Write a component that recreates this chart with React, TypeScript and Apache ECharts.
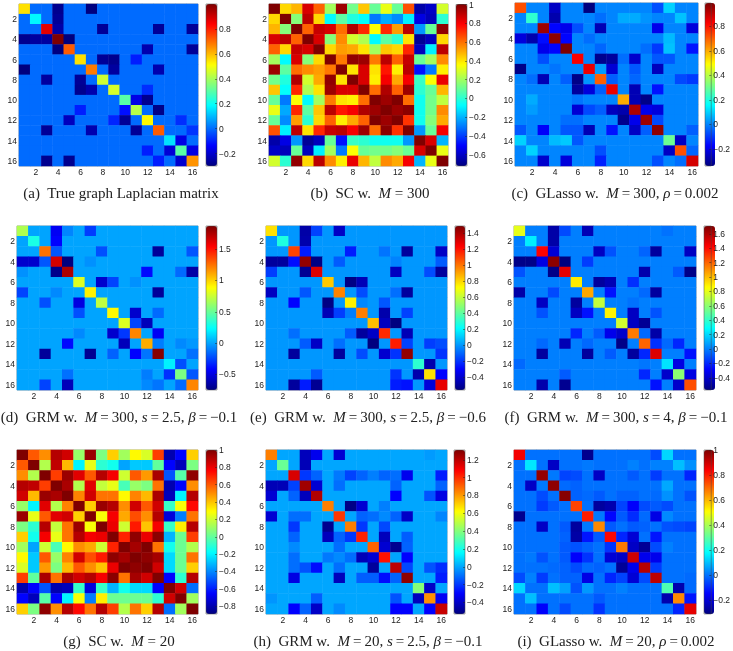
import React, { useEffect, useRef } from "react";
import * as echarts from "echarts";

const categories = ["1","2","3","4","5","6","7","8","9","10","11","12","13","14","15","16"];

const trueLaplacian = [
[.55,0,0,-.28,0,0,-.3,0,0,0,0,0,0,0,0,0],
[0,.18,0,-.27,0,0,0,0,0,0,0,0,0,0,0,0],
[0,0,.87,-.25,0,0,0,-.27,0,0,0,0,-.27,0,0,-.27],
[-.28,-.26,-.26,1,-.3,0,0,0,0,0,0,0,0,0,0,0],
[0,0,0,-.3,.72,0,0,0,0,0,0,-.24,0,0,0,-.27],
[0,0,0,0,0,.55,0,-.27,-.28,0,-.1,0,0,0,0,0],
[-.3,0,0,0,0,0,.68,0,-.26,0,0,0,-.24,0,0,0],
[0,0,-.26,0,0,-.27,0,.45,0,0,0,0,0,0,0,0],
[0,0,0,0,0,-.28,-.24,0,.46,0,0,-.08,0,0,0,0],
[0,0,0,0,0,0,0,0,0,.3,-.17,-.28,0,0,0,0],
[0,0,0,0,0,-.1,0,0,0,-.12,.42,0,-.29,0,0,0],
[0,0,0,0,-.22,0,0,0,-.09,-.27,0,.52,0,0,-.08,0],
[0,0,-.27,0,0,0,-.24,0,0,0,-.27,0,.72,0,0,-.07],
[0,0,0,0,0,0,0,0,0,0,0,0,0,.15,-.17,0],
[0,0,0,0,0,0,0,0,0,0,0,-.1,0,-.19,.3,-.17],
[0,0,-.28,0,-.28,0,0,0,0,0,0,0,-.1,0,-.2,.65],
];

const sc300 = [
[1,.42,.48,.85,.62,.2,.95,.12,.45,.1,.32,.1,.65,-.65,-.6,.28],
[.42,1,.15,.9,.42,-.08,.08,-.02,-.07,-.3,-.22,-.27,-.1,-.55,-.62,0],
[.48,.15,1,.62,.88,.85,.6,.92,.72,.35,.72,.52,.9,-.25,.1,.97],
[.85,.9,.62,1,.85,.15,.55,.28,.22,-.08,.08,0,.4,-.68,-.62,.42],
[.62,.42,.88,.85,1,.42,.52,.5,.4,.2,.45,.42,.72,-.62,-.1,.9],
[.2,-.08,.85,.15,.42,1,.58,.97,.95,.58,.9,.62,.88,.1,.2,.55],
[.95,.08,.6,.55,.52,.58,1,.4,.85,.4,.75,.38,.9,-.48,-.3,.38],
[.12,-.02,.92,.28,.5,.97,.4,1,.85,.38,.8,.5,.8,.02,.35,.82],
[.45,-.07,.72,.22,.4,.95,.85,.85,1,.6,.92,.62,.95,0,.1,.48],
[.1,-.3,.35,-.08,.2,.58,.4,.38,.6,1,.95,1,.6,-.05,.12,.25],
[.32,-.22,.72,.08,.45,.9,.75,.8,.92,.95,1,.95,.98,-.05,.12,.55],
[.1,-.27,.52,0,.42,.62,.38,.5,.62,1,.95,1,.7,-.05,.15,.5],
[.65,-.1,.9,.4,.72,.88,.9,.8,.95,.6,.98,.7,1,-.25,.1,.8],
[-.65,-.55,-.25,-.68,-.62,.1,-.48,.02,0,-.05,-.05,-.05,-.25,1,.85,-.2],
[-.6,-.62,.1,-.62,-.1,.2,-.3,.35,.1,.12,.12,.15,.1,.85,1,.32],
[.28,0,.97,.42,.9,.55,.38,.82,.48,.25,.55,.5,.8,-.2,.32,1],
];

const glasso300 = [
[.72,0,0,-.25,0,0,-.34,0,0,0,0,0,-.07,.1,0,0],
[0,.22,0,-.28,0,0,0,-.03,0,.05,.05,.02,0,0,.08,0],
[0,0,.95,-.17,-.2,-.07,0,-.27,0,0,0,0,-.2,0,0,-.22],
[-.22,-.28,-.16,.97,-.17,0,-.03,0,0,0,0,0,0,.07,0,0],
[0,0,-.2,-.17,1,0,0,-.04,0,0,0,-.03,-.1,.08,0,-.15],
[0,0,-.07,0,0,.83,0,-.32,-.3,-.03,-.24,0,-.06,-.06,0,0],
[-.33,0,0,-.02,0,0,.85,.03,-.23,0,-.06,0,-.26,0,0,0],
[0,-.03,-.27,0,-.05,-.33,.02,.7,-.05,0,-.04,0,0,0,-.08,-.1],
[0,0,0,0,0,-.3,-.22,-.05,.85,0,-.27,0,-.15,0,0,0],
[0,.05,0,0,0,-.02,0,0,0,.6,-.27,-.33,0,0,0,0],
[0,.03,0,0,0,-.23,-.08,-.05,-.26,-.28,.93,-.2,-.22,0,0,0],
[0,0,0,0,-.03,-.03,0,0,0,-.32,-.2,.95,-.08,0,0,0],
[-.06,0,-.18,0,-.06,-.06,-.27,0,-.15,0,-.25,-.05,.97,0,0,-.05],
[.1,0,0,.07,.09,-.06,0,0,0,0,0,0,0,.3,-.25,0],
[0,.1,0,0,0,0,0,-.07,0,0,0,0,0,-.25,.72,-.04],
[0,0,-.24,0,-.22,0,0,-.13,0,0,0,0,-.07,0,-.03,.88],
];

const grm300s25b01 = [
[.68,0,0,-.45,-.08,0,-.27,0,0,0,0,0,0,0,0,0],
[0,.3,0,-.42,0,0,0,0,0,0,0,0,0,0,0,0],
[0,0,1.25,-.2,0,0,0,-.22,0,0,0,0,-.68,0,0,-.2],
[-.55,-.55,-.2,1.65,-.75,0,-.05,0,0,0,0,0,0,0,0,0],
[-.05,0,0,-.72,1.75,0,0,0,0,0,0,-.4,0,0,-.15,-.65],
[0,0,0,0,0,.8,0,-.55,-.25,0,-.05,0,0,0,0,0],
[-.25,0,0,-.07,0,0,.92,0,0,0,0,0,-.68,0,0,0],
[0,0,-.22,0,0,-.5,0,.72,0,0,0,0,0,0,0,0],
[0,0,0,0,0,-.22,0,0,.9,0,-.55,0,-.15,0,0,0],
[0,0,0,0,0,0,0,0,0,.8,-.25,-.6,0,0,0,0],
[0,0,0,0,0,-.07,0,0,-.55,-.28,1.2,0,-.45,0,0,0],
[0,0,0,0,-.4,0,0,0,0,-.6,0,1.1,-.1,0,-.07,-.03],
[0,0,-.68,0,0,0,-.7,0,-.17,0,-.42,-.12,1.85,0,0,-.13],
[0,0,0,0,0,0,0,0,0,0,0,0,0,.2,-.22,0],
[0,0,0,0,-.13,0,0,0,0,0,0,-.1,0,-.3,.55,-.2],
[0,0,-.25,0,-.6,0,0,0,0,0,0,-.07,-.12,0,-.15,1.2],
];

const grm300s25b06 = [
[.78,0,0,-.48,-.17,0,-.42,0,0,0,0,0,0,0,0,0],
[0,.27,0,-.47,0,0,0,0,0,0,0,0,0,0,0,0],
[0,0,1.1,-.25,0,0,0,-.25,0,0,-.07,0,-.5,0,0,-.42],
[-.5,-.5,-.28,1.45,-.55,0,-.12,0,0,0,0,-.04,0,0,0,-.12],
[-.18,0,0,-.52,1.3,0,0,0,0,0,0,-.43,0,0,-.15,-.5],
[0,0,0,0,0,.83,0,-.55,-.45,0,0,0,0,0,0,0],
[-.43,0,0,-.13,0,0,.97,0,-.15,0,0,-.08,-.5,0,0,0],
[0,0,-.3,0,0,-.55,0,.75,-.03,0,-.13,0,0,0,0,0],
[0,0,0,0,0,-.45,-.18,-.05,.98,0,-.47,0,-.17,0,0,0],
[0,0,0,0,0,0,0,0,0,.85,-.43,-.56,0,0,0,0],
[0,0,-.08,0,0,0,0,-.12,-.5,-.42,1.15,0,-.45,0,0,0],
[0,0,0,-.12,-.42,0,-.08,0,0,-.56,0,1.18,-.17,0,-.18,-.15],
[0,0,-.5,0,0,0,-.5,0,-.15,0,-.4,-.2,1.45,0,0,-.2],
[0,0,0,0,0,0,0,0,0,0,0,0,0,.3,-.47,0],
[0,0,0,0,-.12,0,0,0,0,0,0,-.2,0,-.47,.78,-.3],
[0,0,-.5,-.25,-.52,0,0,0,0,0,0,-.25,-.27,0,-.38,1.28],
];

const grm300s4b01 = [
[.8,0,0,-.48,-.12,0,-.45,0,0,0,0,0,0,-.03,0,0],
[0,.25,0,-.48,0,0,0,0,0,0,0,0,0,0,0,0],
[0,0,1.42,-.38,0,0,0,-.42,-.1,0,0,-.06,-.5,0,0,-.42],
[-.55,-.55,-.35,1.68,-.57,0,-.15,0,0,0,0,0,0,0,0,0],
[-.1,0,0,-.55,1.48,0,0,0,0,0,0,-.47,0,0,-.08,-.55],
[0,0,0,0,0,.9,0,-.5,-.45,0,-.18,0,0,0,0,0],
[-.48,0,0,-.12,0,0,1.05,0,-.25,0,0,-.05,-.5,0,0,0],
[0,0,-.42,0,0,-.5,0,.72,0,0,-.03,0,0,0,0,0],
[0,0,-.1,0,0,-.42,-.25,0,.88,0,-.42,0,-.1,0,0,0],
[0,0,0,0,0,0,0,0,0,.75,-.42,-.52,0,0,0,0],
[0,0,0,0,0,-.2,0,-.08,-.33,-.4,1.15,-.05,-.48,0,0,0],
[0,0,-.05,0,-.45,0,-.05,0,0,-.55,0,1.2,-.18,-.05,-.2,0],
[0,0,-.5,0,0,0,-.5,0,-.08,0,-.5,-.2,1.5,0,0,-.25],
[-.05,0,0,0,0,0,0,0,0,0,0,-.02,0,.22,-.35,0],
[0,0,0,0,-.08,0,0,0,0,0,0,-.2,0,-.4,.6,-.35],
[0,0,-.47,0,-.53,0,0,0,0,0,0,0,-.25,0,-.4,1.25],
];

const sc20 = [
[1,.6,.5,.9,.85,.1,.95,.05,.38,.12,.3,.22,.65,-.8,-.65,.38],
[.6,1,.15,.88,.42,-.2,.25,-.1,-.15,-.35,-.28,-.28,0,-.65,-.78,.05],
[.5,.15,1,.65,.95,.82,.6,.9,.78,.2,.6,.48,.92,-.5,-.02,.97],
[.9,.88,.65,1,.92,.15,.82,.18,.25,-.05,.1,.05,.55,-.8,-.65,.5],
[.85,.42,.95,.92,1,.52,.85,.55,.55,.3,.52,.42,.92,-.78,-.2,.9],
[.1,-.2,.82,.15,.52,1,.38,.95,.9,.5,.85,.6,.85,-.08,.28,.75],
[.95,.25,.6,.82,.85,.38,1,.28,.78,.45,.62,.5,.9,-.72,-.42,.55],
[.05,-.1,.9,.18,.55,.95,.28,1,.8,.2,.72,.4,.78,-.08,.32,.9],
[.38,-.15,.78,.25,.55,.9,.78,.8,1,.7,.97,.8,.98,-.32,.02,.65],
[.12,-.35,.2,-.05,.3,.5,.45,.2,.7,1,.93,1,.55,-.15,.02,.15],
[.3,-.28,.6,.1,.52,.85,.62,.72,.97,.93,1,.97,.93,-.25,.02,.55],
[.22,-.28,.48,.05,.42,.6,.5,.4,.8,1,.97,1,.85,-.25,.02,.38],
[.65,0,.92,.55,.92,.85,.9,.78,.98,.55,.93,.85,1,-.65,-.1,.9],
[-.8,-.65,-.5,-.8,-.78,-.08,-.72,-.08,-.32,-.15,-.25,-.25,-.65,1,.85,-.45],
[-.65,-.78,-.02,-.65,-.2,.28,-.42,.32,.02,.02,.02,.02,-.1,.85,1,.12],
[.38,.05,.97,.5,.9,.75,.55,.9,.65,.15,.55,.38,.9,-.45,.12,1],
];

const grm20 = [
[.85,0,0,-.42,-.33,0,-.38,0,0,0,0,0,0,0,-.02,0],
[0,.35,0,-.43,0,0,0,0,0,0,0,0,0,0,0,0],
[0,0,1.15,-.2,-.12,0,-.08,-.18,-.12,-.07,-.12,-.1,-.33,0,0,-.25],
[-.43,-.43,-.18,1.25,-.38,0,-.1,0,0,0,0,-.12,0,0,0,-.12],
[-.38,0,-.12,-.42,1.22,0,0,0,0,0,0,-.3,0,0,-.15,-.35],
[0,0,0,0,0,.85,0,-.52,-.38,0,-.07,0,0,0,0,0],
[-.38,0,-.1,-.1,0,0,.98,0,-.12,-.1,-.05,-.12,-.4,0,0,-.06],
[0,0,-.2,0,0,-.5,0,.85,-.2,0,-.17,0,0,0,0,0],
[0,0,-.12,0,0,-.42,-.12,-.2,1.02,0,-.42,0,-.13,0,0,0],
[0,0,-.05,0,0,0,-.1,0,0,.9,-.38,-.5,-.12,0,0,0],
[0,0,-.1,0,0,-.08,-.05,-.1,-.43,-.38,1.05,0,-.3,0,0,0],
[0,0,-.1,-.15,-.28,0,-.1,0,0,-.48,0,1.2,-.17,0,-.15,-.22],
[0,0,-.35,0,0,0,-.42,0,-.13,-.13,-.28,-.12,1.28,0,0,-.25],
[0,0,0,0,0,0,0,0,0,0,0,0,0,.4,-.4,0],
[-.03,0,0,0,-.13,0,0,0,0,0,0,-.15,0,-.42,.82,-.32],
[0,0,-.3,-.12,-.4,0,-.05,0,0,0,0,-.3,-.3,0,-.3,1.18],
];

const glasso20 = [
[.85,0,0,0,0,0,-.29,0,0,0,0,0,-.05,.13,0,0],
[0,.15,0,-.22,0,0,.01,0,0,0,.02,0,.02,.02,.1,.04],
[0,0,.97,.01,-.06,-.05,0,-.22,0,0,-.03,0,-.07,0,0,-.1],
[0,-.22,.01,.98,-.01,-.02,0,0,0,0,0,0,0,.07,0,0],
[0,0,-.05,0,.99,-.02,-.01,-.03,0,-.02,-.02,0,-.01,.04,0,-.04],
[0,0,-.07,-.03,0,.75,0,-.27,-.25,-.06,-.15,-.05,-.03,-.05,0,0],
[-.29,0,0,0,0,0,.8,.01,-.14,-.03,-.09,-.01,-.18,.03,0,0],
[0,0,-.22,0,-.03,-.27,.01,.66,-.03,0,-.03,-.02,0,-.04,-.05,-.06],
[0,0,0,0,-.02,-.26,-.12,-.03,.83,-.1,-.2,0,-.12,0,0,0],
[0,0,0,0,-.03,-.04,-.02,0,-.08,.68,-.22,-.28,-.05,.02,0,0],
[0,.01,-.04,0,-.03,-.15,-.08,0,-.2,-.22,.9,-.17,-.17,0,0,0],
[0,0,0,-.01,-.02,-.05,-.01,-.02,0,-.28,-.17,.93,-.07,0,0,0],
[-.05,.02,-.07,0,-.02,-.02,-.18,0,-.1,-.06,-.2,-.05,.92,0,0,-.01],
[.13,0,0,.1,.06,-.04,.05,0,0,.02,0,0,0,.28,-.25,-.01],
[0,.1,0,0,0,0,0,-.03,0,0,0,0,0,-.25,.66,-.12],
[0,0,-.15,0,-.05,0,0,-.08,0,0,0,0,0,0,-.1,.87],
];

const matrices = [trueLaplacian, sc300, glasso300, grm300s25b01, grm300s25b06, grm300s4b01, sc20, grm20, glasso20];

const captions = [
  "(a)  True graph Laplacian matrix",
  "(b)  SC w.  {i|M} = 300",
  "(c)  GLasso w.  {i|M}\u2009=\u2009300, {i|ρ}\u2009=\u20090.002",
  "(d)  GRM w.  {i|M}\u2009=\u2009300, {i|s}\u2009=\u20092.5, {i|β}\u2009=\u2009−0.1",
  "(e)  GRM w.  {i|M}\u2009=\u2009300, {i|s}\u2009=\u20092.5, {i|β}\u2009=\u2009−0.6",
  "(f)  GRM w.  {i|M}\u2009=\u2009300, {i|s}\u2009=\u20094, {i|β}\u2009=\u2009−0.1",
  "(g)  SC w.  {i|M} = 20",
  "(h)  GRM w.  {i|M}\u2009=\u200920, {i|s}\u2009=\u20092.5, {i|β}\u2009=\u2009−0.1",
  "(i)  GLasso w.  {i|M}\u2009=\u200920, {i|ρ}\u2009=\u20090.002",
];

const colorRanges = [
  [-0.3, 1], [-0.72, 1], [-0.34, 0.99],
  [-0.75, 1.87], [-0.56, 1.49], [-0.57, 1.71],
  [-0.89, 1], [-0.53, 1.31], [-0.31, 1],
];

const colorTicks = [
  [-0.2, 0, 0.2, 0.4, 0.6, 0.8],
  [-0.6, -0.4, -0.2, 0, 0.2, 0.4, 0.6, 0.8, 1],
  [-0.2, 0, 0.2, 0.4, 0.6, 0.8],
  [-0.5, 0, 0.5, 1, 1.5],
  [-0.4, -0.2, 0, 0.2, 0.4, 0.6, 0.8, 1, 1.2, 1.4],
  [-0.4, -0.2, 0, 0.2, 0.4, 0.6, 0.8, 1, 1.2, 1.4, 1.6],
  [-0.8, -0.6, -0.4, -0.2, 0, 0.2, 0.4, 0.6, 0.8, 1],
  [-0.4, -0.2, 0, 0.2, 0.4, 0.6, 0.8, 1, 1.2],
  [-0.2, 0, 0.2, 0.4, 0.6, 0.8, 1],
];

const jet = ["#00007f","#0000ff","#007fff","#00ffff","#7fff7f","#ffff00","#ff7f00","#ff0000","#7f0000"];

// [plot left, plot right, plot top, plot bottom, bar left, bar right, caption centre x, caption centre y]
const layout = [
  [19, 198, 4, 166, 206, 217, 121, 193],
  [269, 448, 4, 166, 456, 467, 370, 193],
  [515, 698, 3, 166, 705, 715, 615, 193],
  [17, 198, 226, 390, 206, 217, 119, 417],
  [266, 447, 226, 390, 455, 465, 368, 417],
  [514, 696, 226, 390, 704, 715, 616, 417],
  [17, 198, 450, 614, 206, 217, 119, 641],
  [266, 447, 450, 614, 454, 465, 368, 641],
  [514, 696, 450, 614, 704, 714, 616, 641],
];

const SANS = "Liberation Sans";
const SERIF = "Liberation Serif";
const INK = "#222";
const showEven = (_: number, v: string) => Number(v) % 2 === 0;

function buildOption() {
  const grid: any[] = [], xAxis: any[] = [], yAxis: any[] = [], series: any[] = [], visualMap: any[] = [], title: any[] = [];
  matrices.forEach((m, i) => {
    const [l, r, t, b, bl, br, cx, cy] = layout[i];
    const [lo, hi] = colorRanges[i];
    const gi = 2 * i;
    grid.push({ left: l, top: t, width: r - l, height: b - t, show: true, borderColor: "#444", borderWidth: 0.5, backgroundColor: "transparent" });
    xAxis.push({
      gridIndex: gi, type: "category", data: categories, position: "bottom",
      axisLine: { show: false }, splitLine: { show: false }, splitArea: { show: false },
      axisTick: { show: true, inside: true, length: 2, alignWithLabel: true, interval: showEven, lineStyle: { color: INK, width: 0.5 } },
      axisLabel: { interval: showEven, fontFamily: SANS, fontSize: 8.5, color: INK, margin: 1 },
    });
    yAxis.push({
      gridIndex: gi, type: "category", data: categories, inverse: true,
      axisLine: { show: false }, splitLine: { show: false }, splitArea: { show: false },
      axisTick: { show: true, inside: true, length: 2, alignWithLabel: true, interval: showEven, lineStyle: { color: INK, width: 0.5 } },
      axisLabel: { interval: showEven, fontFamily: SANS, fontSize: 8.5, color: INK, margin: 2 },
    });
    const data: number[][] = [];
    m.forEach((row, y) => row.forEach((v, x) => data.push([x, y, v])));
    series.push({
      type: "heatmap", xAxisIndex: gi, yAxisIndex: gi, data, progressive: 0,
      emphasis: { disabled: true }, itemStyle: { borderWidth: 0 }, silent: true,
    });
    visualMap.push({
      type: "continuous", seriesIndex: i, dimension: 2, min: lo, max: hi, show: true,
      left: bl, top: t, itemWidth: br - bl, itemHeight: b - t, padding: 0,
      calculable: false, realtime: false, hoverLink: false, text: undefined,
      inRange: { color: jet }, textStyle: { color: "transparent", fontSize: 1 },
    });
    grid.push({ left: bl, top: t, width: br - bl, height: b - t, show: true, borderColor: "#444", borderWidth: 0.5, backgroundColor: "transparent", z: 5 });
    xAxis.push({ gridIndex: gi + 1, type: "category", data: [""], show: false });
    yAxis.push({
      gridIndex: gi + 1, type: "value", position: "right", min: lo, max: hi,
      axisLine: { show: false }, splitLine: { show: false },
      axisTick: { show: true, inside: true, length: 2, customValues: colorTicks[i], lineStyle: { color: INK, width: 0.5 } },
      axisLabel: {
        customValues: colorTicks[i], fontFamily: SANS, fontSize: 8.5, color: INK, margin: 2,
        formatter: (v: number) => String(v).replace("-", "\u2212"),
      },
      z: 6,
    });
    title.push({
      text: captions[i], left: cx, top: cy - 8, textAlign: "center", padding: 0,
      textStyle: {
        fontFamily: SERIF, fontSize: 15, fontWeight: "normal", color: "#222",
        rich: { i: { fontFamily: SERIF, fontSize: 15, fontStyle: "italic", color: "#222" } },
      },
    });
  });
  return { animation: false, backgroundColor: "#fff", grid, xAxis, yAxis, series, visualMap, title, tooltip: { show: false } };
}

export default function App() {
  const ref = useRef<HTMLDivElement>(null);
  useEffect(() => {
    const chart = echarts.init(ref.current!, undefined, { renderer: "svg" });
    chart.setOption(buildOption() as any);
    return () => chart.dispose();
  }, []);
  return <div ref={ref} style={{ position: "absolute", left: 0, top: 0, width: 733, height: 651, filter: "blur(0.5px)" }} />;
}
